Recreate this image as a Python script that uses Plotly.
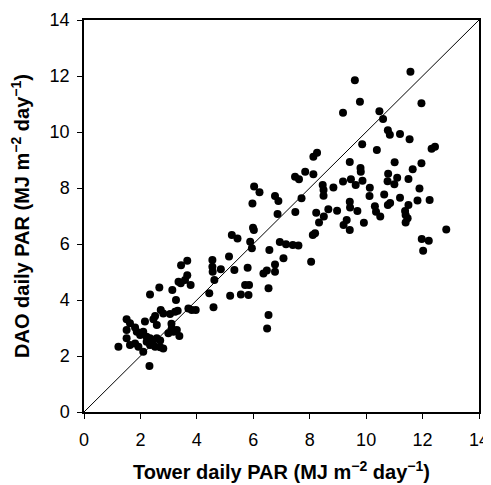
import plotly.graph_objs as go

# tower (x) vs DAO (y) daily PAR
tower_par = [
    11.57, 9.6, 9.78, 11.96, 9.18, 10.47, 10.6, 10.77, 10.84, 11.2, 11.54, 9.86, 10.38, 12.32, 12.44,
    9.42, 9.8, 11.01, 11.96, 11.65, 9.81, 9.18, 9.46, 9.63, 9.87, 10.78, 11.1, 10.76, 11.0, 11.5,
    10.13, 10.12, 10.64, 11.2, 11.89, 12.25, 11.82, 11.5, 9.42, 9.43, 9.69, 10.31, 10.35, 10.5, 10.77,
    10.85, 11.38, 11.4, 11.47, 11.4, 9.31, 9.2, 9.42, 9.92, 12.84, 11.97, 12.22, 12.02,
    7.48, 7.62, 7.84, 8.46, 8.49, 8.49, 8.84, 6.03, 6.22, 6.77, 6.89, 5.97, 7.71, 6.86, 7.49, 8.23,
    8.66, 8.97, 8.5, 8.33, 8.11, 8.19, 5.99, 6.02, 5.24, 5.44, 5.89, 5.95, 6.94, 7.16, 7.4, 7.6,
    6.57, 5.14, 7.07, 8.05, 6.77, 5.33, 5.8, 6.36, 6.48, 6.77, 5.71, 5.85, 6.54,
    8.13, 8.26, 8.13,
    4.55, 4.55, 4.56, 4.85, 4.62, 4.44, 4.59, 5.18, 5.56, 5.83, 6.54, 6.49,
    3.44, 3.66, 3.66, 3.58, 3.43, 3.35, 3.78, 3.13, 2.67, 2.34, 3.26, 2.72, 2.81, 3.05, 3.23, 3.32,
    3.7, 3.82, 3.96, 2.52, 2.16, 2.46, 2.58, 1.51, 1.63, 1.51, 1.81, 1.87, 1.99, 2.1, 1.51, 1.22,
    1.63, 1.81, 1.93, 2.22, 2.34, 2.46, 2.58, 2.7, 2.22, 2.34, 2.52, 2.7, 2.81, 2.1, 2.32, 3.11,
    3.17, 2.99, 3.38, 3.1, 3.29,
]
dao_par = [
    12.15, 11.85, 11.08, 11.03, 10.69, 10.74, 10.46, 10.06, 9.9, 9.93, 9.74, 9.56, 9.36, 9.4, 9.47,
    8.93, 8.71, 8.92, 8.88, 8.67, 8.58, 8.23, 8.31, 8.11, 8.26, 8.51, 8.37, 8.24, 8.13, 8.32,
    8.01, 7.71, 7.77, 7.65, 7.98, 7.57, 7.55, 7.39, 7.51, 7.3, 7.18, 7.35, 7.15, 6.98, 7.39,
    7.46, 7.18, 7.04, 6.92, 6.77, 6.86, 6.68, 6.5, 6.76, 6.52, 6.18, 6.12, 5.76,
    8.4, 8.31, 8.58, 8.11, 7.93, 7.72, 8.02, 8.05, 7.85, 7.71, 7.54, 7.45, 7.63, 7.07, 7.14, 7.12,
    7.24, 7.19, 6.98, 6.77, 6.32, 6.38, 6.58, 6.5, 6.32, 6.2, 6.08, 5.85, 6.07, 5.99, 5.96, 5.95,
    5.79, 5.55, 5.49, 5.37, 5.27, 5.07, 5.15, 4.95, 5.05, 5.01, 4.54, 4.54, 4.42,
    9.12, 9.26, 8.49,
    5.43, 5.19, 5.01, 5.1, 4.71, 4.24, 3.74, 4.15, 4.2, 4.18, 3.46, 2.98,
    5.24, 5.4, 4.88, 4.71, 4.6, 4.65, 4.54, 4.36, 4.45, 4.2, 4.0, 3.64, 3.52, 3.5, 3.58, 3.62,
    3.7, 3.64, 3.64, 3.43, 3.23, 3.31, 3.11, 3.31, 3.17, 2.93, 3.02, 2.87, 2.75, 2.87, 2.63, 2.33,
    2.39, 2.45, 2.33, 2.69, 2.63, 2.57, 2.63, 2.55, 2.51, 2.39, 2.33, 2.31, 2.27, 2.15, 1.64, 2.99,
    2.87, 2.81, 2.71, 3.15, 2.93,
]
one_to_one = [0, 14]
tick_vals = [0, 2, 4, 6, 8, 10, 12, 14]

fig = go.Figure()
fig.add_trace(go.Scatter(
    x=one_to_one, y=one_to_one, mode="lines",
    line=dict(color="black", width=1), hoverinfo="skip"
))
fig.add_trace(go.Scatter(
    x=tower_par, y=dao_par, mode="markers",
    marker=dict(color="black", size=8)
))

axis_style = dict(
    range=[0, 14], tickvals=tick_vals, ticks="outside", ticklen=5, tickwidth=1,
    tickcolor="black", showline=True, linecolor="black", linewidth=1.5, mirror=True,
    showgrid=False, zeroline=False, tickfont=dict(size=18, color="black"),
    automargin=False,
)
fig.update_xaxes(
    title=dict(text="<b>Tower daily PAR (MJ m<sup>−2</sup> day<sup>−1</sup>)</b>",
               font=dict(size=20, color="black"), standoff=16),
    ticklabelstandoff=6,
    **axis_style
)
fig.update_yaxes(
    title=dict(text="<b>DAO daily PAR (MJ m<sup>−2</sup> day<sup>−1</sup>)</b>",
               font=dict(size=20, color="black"), standoff=23),
    ticklabelstandoff=4,
    **axis_style
)
# page body has an 8px margin, so the figure is a bit smaller than the window
fig.update_layout(
    width=483, height=477, showlegend=False,
    margin=dict(l=76, r=12, t=12, b=73),
    plot_bgcolor="white", paper_bgcolor="white",
    font=dict(family="Liberation Sans, Arial, sans-serif"),
)
fig.write_html("out.html")
